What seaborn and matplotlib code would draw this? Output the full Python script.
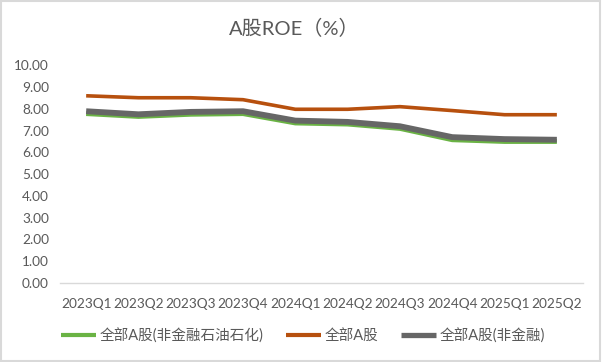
import matplotlib
matplotlib.use("Agg")
import matplotlib.pyplot as plt
import seaborn as sns
import pandas as pd
from matplotlib.patches import Rectangle

quarters = ["2023Q1", "2023Q2", "2023Q3", "2023Q4", "2024Q1",
            "2024Q2", "2024Q3", "2024Q4", "2025Q1", "2025Q2"]
roe_ex_fin_petro = [7.78, 7.65, 7.75, 7.78, 7.35, 7.30, 7.10, 6.58, 6.50, 6.50]
roe_all = [8.60, 8.51, 8.51, 8.42, 7.98, 7.98, 8.10, 7.92, 7.73, 7.73]
roe_ex_fin = [7.89, 7.75, 7.86, 7.89, 7.46, 7.40, 7.20, 6.70, 6.61, 6.58]
series_names = ["全部A股(非金融石油石化)", "全部A股", "全部A股(非金融)"]
yticks = [0, 1, 2, 3, 4, 5, 6, 7, 8, 9, 10]

sns.set_theme(style="white")
plt.rcParams['font.family'] = ['Lato', 'Noto Sans CJK SC', 'DejaVu Sans']

rows = []
for name, vals in zip(series_names, [roe_ex_fin_petro, roe_all, roe_ex_fin]):
    for i, (q, v) in enumerate(zip(quarters, vals)):
        rows.append({"quarter": q, "x": i, "value": v, "series": name})
df = pd.DataFrame(rows)

colors = {series_names[0]: "#6AB344", series_names[1]: "#B7500E", series_names[2]: "#666666"}
widths = {series_names[0]: 3.5, series_names[1]: 2.6, series_names[2]: 4.2}
legend_widths = [3.0, 3.0, 3.8]

fig = plt.figure(figsize=(6.02, 3.62), dpi=100)
ax = fig.add_axes([60/602, 1-283/362, (583-60)/602, (283-65.3)/362])

for name in series_names:
    sub = df[df.series == name]
    sns.lineplot(data=sub, x="x", y="value", color=colors[name], lw=widths[name],
                 ax=ax, label=name, solid_capstyle="butt")

ax.set_xlim(-0.5, len(quarters) - 0.5)
ax.set_ylim(0, 10)
ax.set_xticks(range(len(quarters)))
ax.set_xticklabels(quarters)
ax.set_yticks(yticks)
ax.set_yticklabels([f"{t:.2f}" for t in yticks])
ax.set_xlabel("")
ax.set_ylabel("")
ax.tick_params(axis="both", colors="#595959", labelsize=9.8, length=0)
ax.tick_params(axis="x", pad=11)
ax.tick_params(axis="y", pad=8)
for s in ["top", "right", "left"]:
    ax.spines[s].set_visible(False)
ax.spines["bottom"].set_color("#D9D9D9")
ax.spines["bottom"].set_linewidth(1.0)

leg = ax.legend(loc="center", bbox_to_anchor=(303/602, 1-336/362), bbox_transform=fig.transFigure,
                ncol=3, frameon=False, fontsize=10.5, handlelength=2.4, handletextpad=0.2,
                columnspacing=1.6, labelcolor="#595959")
for line, w in zip(leg.get_lines(), legend_widths):
    line.set_linewidth(w)

fig.text(294/602, 1-28/362, "A股ROE（%）", ha="center", va="center", fontsize=14.5, color="#595959")

fig.patches.append(Rectangle((0.002, 0.003), 0.995, 0.993, transform=fig.transFigure,
                             fill=False, edgecolor="#D9D9D9", lw=1.5))

fig.savefig("out.png", dpi=100, facecolor="white")
